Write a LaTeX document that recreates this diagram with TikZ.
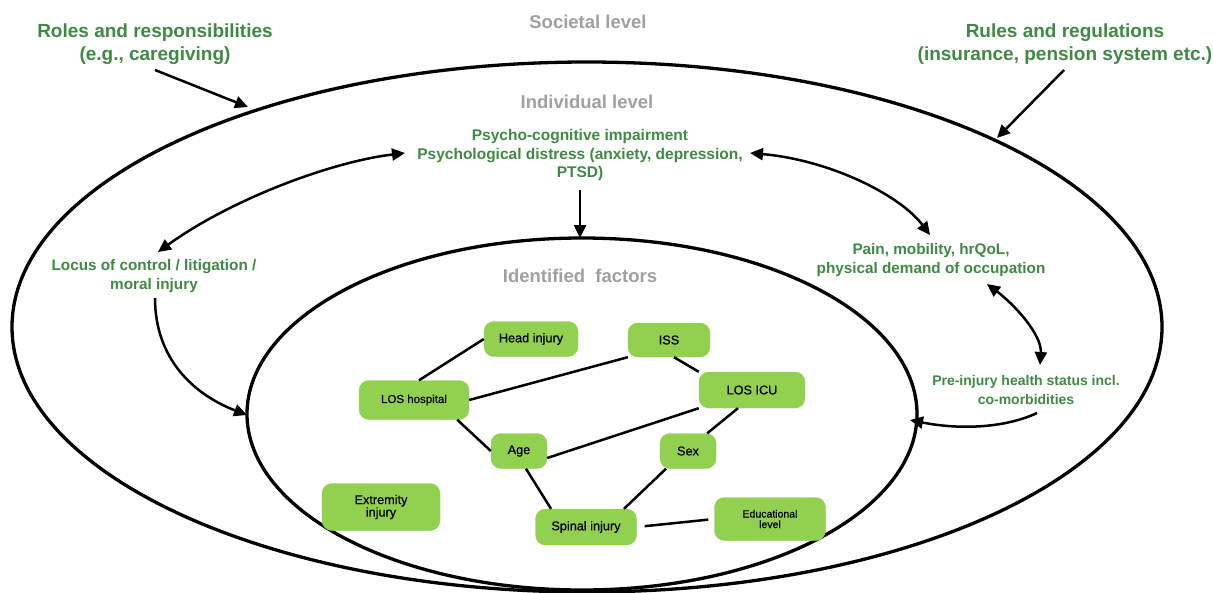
\documentclass[tikz,border=0pt]{standalone}
\usepackage{fontspec}
\setmainfont{Liberation Sans}
\newfontfamily\boxfont[FakeBold=0.6]{Liberation Sans}
\usetikzlibrary{arrows.meta}
\definecolor{leafgreen}{HTML}{92D050}
\definecolor{textgreen}{HTML}{3F8A43}
\definecolor{levelgrey}{HTML}{A0A0A0}
\tikzset{
  factor/.style={fill=leafgreen,draw=leafgreen,rounded corners=10pt,align=center,
    inner sep=0pt,font=\boxfont\fontsize{12.7}{12.5}\selectfont},
  greentext/.style={text=textgreen,align=center,font=\bfseries\fontsize{15.3}{18.5}\selectfont},
  leveltext/.style={text=levelgrey,font=\bfseries\fontsize{18.5}{21}\selectfont},
  link/.style={line width=2.5pt},
  arr/.style={line width=2.5pt,-{Triangle[length=13pt,width=12pt]}},
  dblarr/.style={line width=2.5pt,{Triangle[length=13pt,width=12pt]}-{Triangle[length=13pt,width=12pt]}},
}
\begin{document}
\begin{tikzpicture}[x=1pt,y=-1pt]
\useasboundingbox (0,0) rectangle (1213,592);
% the two levels
\draw[line width=3.3pt] (587,327) ellipse [x radius=575, y radius=265];
\draw[line width=3.3pt] (582,414) ellipse [x radius=335, y radius=176];
% titles of the levels
\node[leveltext] (societal) at (588,22) {Societal level};
\node[leveltext] (individual) at (587,102) {Individual level};
\node[leveltext] (identified) at (580,276) {Identified\ \ factors};
% societal influences
\node[greentext,font=\bfseries\fontsize{19}{23}\selectfont] (roles) at (155,44) {Roles and responsibilities\\(e.g., caregiving)};
\node[greentext,font=\bfseries\fontsize{19}{23}\selectfont] (rules) at (1065,44) {Rules and regulations\\(insurance, pension system etc.)};
\coordinate (rolestip) at (248,107);
\coordinate (rulestip) at (997,138);
\draw[arr] (155,70) -- (rolestip);
\draw[arr] (1064,70) -- (rulestip);
% individual factors
\node[greentext,font=\bfseries\fontsize{15.5}{18.5}\selectfont] (psych) at (580,155) {Psycho-cognitive impairment\\Psychological distress (anxiety, depression,\\PTSD)};
\node[greentext] (locus) at (154,276) {Locus of control / litigation /\\moral injury};
\node[greentext] (pain) at (931,260) {Pain, mobility, hrQoL,\\physical demand of occupation};
\node[greentext,font=\bfseries\fontsize{14}{18.5}\selectfont] (pre) at (1026,390) {Pre-injury health status incl.\\co-morbidities};
\coordinate (innertop) at (580,238);
\coordinate (innerleft) at (247,415);
\coordinate (innerright) at (910,420);
\draw[arr] (580,190) -- (innertop);
\draw[dblarr] (158,252) .. controls (230,200) and (330,162) .. (405,153);
\draw[dblarr] (750,153) .. controls (830,160) and (900,195) .. (930,235);
\draw[dblarr] (987,284) .. controls (1015,305) and (1042,335) .. (1040,365);
\draw[arr] (155,298) .. controls (155,360) and (195,395) .. (innerleft);
\draw[arr] (1037,413) .. controls (1005,428) and (960,430) .. (innerright);
% identified factors
\node[factor,minimum width=94pt,minimum height=35pt] (head) at (531,339) {Head injury};
\node[factor,minimum width=82pt,minimum height=34pt] (iss) at (669,340) {ISS};
\node[factor,minimum width=110pt,minimum height=39pt,font=\boxfont\fontsize{11.5}{12}\selectfont] (loshosp) at (414,400) {LOS hospital};
\node[factor,minimum width=106pt,minimum height=36pt] (losicu) at (752,390) {LOS ICU};
\node[factor,minimum width=56pt,minimum height=35pt] (age) at (519,451) {Age};
\node[factor,minimum width=56pt,minimum height=35pt] (sex) at (688,451) {Sex};
\node[factor,minimum width=118pt,minimum height=47pt] (extremity) at (381,507) {Extremity\\injury};
\node[factor,minimum width=101pt,minimum height=36pt] (spinal) at (586,527) {Spinal injury};
\node[factor,minimum width=111pt,minimum height=43pt,font=\boxfont\fontsize{10.5}{10.5}\selectfont] (edu) at (770,519) {Educational\\level};
% links between the factors
\draw[link] (loshosp.north) ++(5,0) -- (head.west);
\draw[link] (loshosp.east) -- (iss.south west);
\draw[link] (loshosp.south east) ++(-12,0) -- (age.west);
\draw[link] (iss.south) ++(5,0) -- (losicu.north west);
\draw[link] (losicu.south west) -- ([yshift=-7pt]age.east);
\draw[link] (losicu.south) ++(-14,0) -- ([xshift=-9pt]sex.north east);
\draw[link] (age.south) ++(7,0) -- ([xshift=-35pt]spinal.north);
\draw[link] (sex.south) ++(-22,0) -- ([xshift=38pt]spinal.north);
\draw[link,shorten <=8pt,shorten >=6pt] (spinal.east) -- (edu.west);
\end{tikzpicture}
\end{document}
